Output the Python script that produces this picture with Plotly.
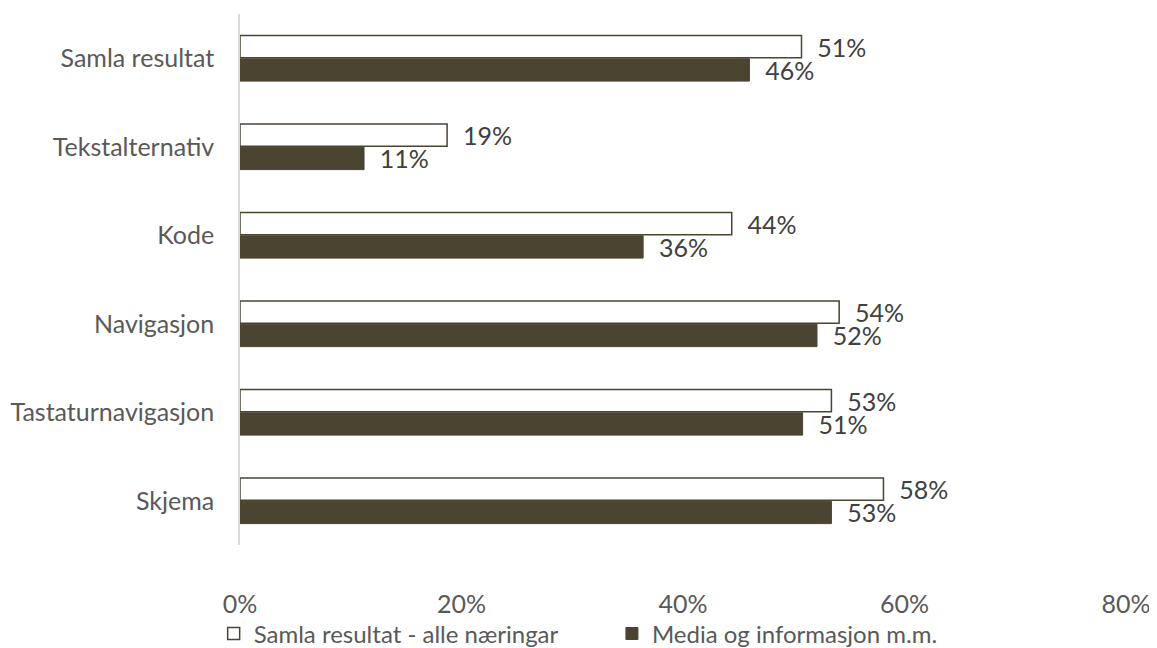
import plotly.graph_objects as go

categories = ['Samla resultat', 'Tekstalternativ', 'Kode', 'Navigasjon',
              'Tastaturnavigasjon', 'Skjema']
alle_naeringar = [0.507, 0.187, 0.444, 0.541, 0.534, 0.581]
media_info = [0.460, 0.112, 0.364, 0.521, 0.508, 0.534]
x_ticks = [0, 0.2, 0.4, 0.6, 0.8]
x_tick_labels = ['0%', '20%', '40%', '60%', '80%']

DARK = '#4b4430'
TEXT = '#404040'
GREY = '#595959'
FONT = 'Lato, Open Sans, sans-serif'
PAD = '\u00a0\u00a0'

fig = go.Figure()
fig.add_trace(go.Bar(
    y=categories, x=alle_naeringar, orientation='h',
    name='Samla resultat - alle næringar' + '\u00a0' * 8,
    marker=dict(color='white', line=dict(color=DARK, width=1.5)),
    text=[f'{PAD}{round(v * 100)}%' for v in alle_naeringar],
    textposition='outside', cliponaxis=False, constraintext='none',
    textfont=dict(size=25, color=TEXT),
))
fig.add_trace(go.Bar(
    y=categories, x=media_info, orientation='h',
    name='Media og informasjon m.m.',
    marker=dict(color=DARK, line=dict(color=DARK, width=1)),
    text=[f'{PAD}{round(v * 100)}%' for v in media_info],
    textposition='outside', cliponaxis=False, constraintext='none',
    textfont=dict(size=25, color=TEXT),
))

# page body adds an 8px margin, so the figure is drawn 8px smaller
fig.update_layout(
    width=1149, height=640,
    barmode='group', bargap=0.47, bargroupgap=0.05,
    plot_bgcolor='white', paper_bgcolor='white',
    font=dict(family=FONT, size=25, color=TEXT),
    margin=dict(l=232, r=31, t=6, b=103),
    legend=dict(orientation='h', xref='container', x=0.179, xanchor='left',
                yref='container', y=0.022, yanchor='middle',
                bgcolor='rgba(0,0,0,0)',
                font=dict(size=24, color=GREY), itemwidth=30),
    showlegend=True,
)
fig.update_xaxes(range=[0, 0.8], tickvals=x_ticks, ticktext=x_tick_labels,
                 showgrid=False, zeroline=False, showline=False,
                 tickfont=dict(color=GREY, size=25), automargin=False,
                 ticklabelstandoff=42)
fig.update_yaxes(autorange='reversed', showgrid=False, showline=True,
                 linecolor='#d9d9d9', linewidth=1.5, ticks='', automargin=False,
                 tickfont=dict(color=GREY, size=25), ticklabelstandoff=19)

fig.write_html("out.html")
